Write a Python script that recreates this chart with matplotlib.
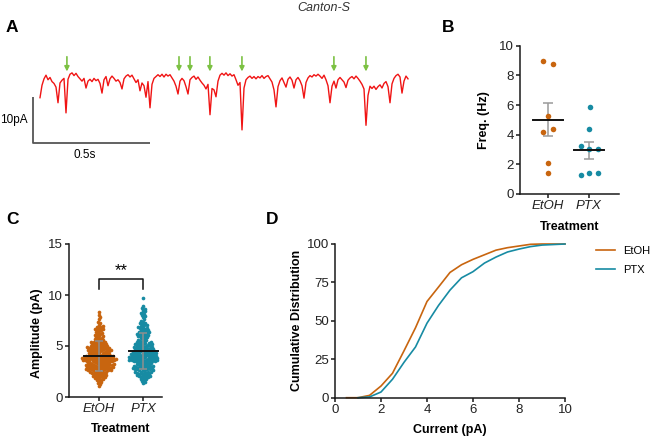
import numpy as np
import matplotlib
matplotlib.use('Agg')
import matplotlib.pyplot as plt

plt.rcParams['font.family'] = ['Liberation Sans', 'DejaVu Sans']

# colours
c_etoh = '#c8650f'
c_ptx = '#178ba3'
c_axis = '#1a1a1a'

# ---- panel A : raw trace (pA), one sample every 2 px of the picture ----
trace_pa = [-4.5, -1.8, -0.4, 0.4, -0.6, -0.1, -1.0, -1.4, -2.2, -5.6,
            -1.3, -0.7, -0.3, -7.8, -0.5, 0.6, 0.9, 0.3, 0.8, 0.1,
            -0.4, -0.9, -0.3, -2.4, -0.9, -0.5, -1.0, -0.3, -0.8, -0.5,
            -1.4, -3.5, -0.6, 0.1, -1.9, -0.4, 0.2, -0.3, -0.9, -0.6,
            -1.2, -2.6, -0.4, 0.2, 0.5, 0.0, 0.4, -0.4, -1.2, -0.6,
            -3.0, -1.3, -1.9, -4.4, -1.0, -6.7, -1.6, -0.3, 0.1, 0.5,
            0.1, 0.6, 0.0, 0.6, 0.2, 0.5, -0.2, -0.9, -2.0, -3.7,
            -0.9, -0.3, -0.8, -2.1, -3.7, -0.6, -0.1, 0.2, -0.5, 0.0,
            -0.7, -1.3, -1.8, -2.6, -1.6, -8.2, -2.5, -2.8, -4.3, -0.9,
            0.4, 0.8, 0.4, 0.9, 0.3, 0.7, 0.2, 0.5, -0.6, -1.8,
            -1.2, -11.5, -2.4, -0.6, -0.1, 0.2, -0.3, 0.1, -0.4, 0.1,
            -0.2, 0.3, -0.3, 0.1, 0.3, -0.4, -1.1, -2.8, -6.5, -2.1,
            -0.8, -0.2, -1.2, -2.2, -0.5, 0.0, -0.7, -2.4, -0.6, -0.1,
            -0.8, -1.9, -4.6, -1.2, -0.2, 0.3, 0.0, 0.5, 0.2, 0.6,
            0.2, -0.3, 0.4, -0.6, -1.9, -5.6, -2.0, -0.9, -2.4, -0.6,
            -0.1, -0.6, -1.1, -2.3, -0.7, -0.2, 0.1, -0.4, 0.2, -0.3,
            -0.9, -1.6, -2.6, -10.5, -4.0, -2.0, -2.5, -2.0, -2.7, -2.1,
            -1.7, -2.4, -1.4, -1.0, -2.1, -5.6, -1.5, -0.3, 0.3, 0.6,
            0.0, -3.5, -0.9, 0.2, -0.4]
sample_dt = 2 / 234.0          # seconds per sample
arrow_times = [0.115, 0.594, 0.641, 0.726, 0.863, 1.256, 1.393]

# ---- panel B : frequency per cell (Hz) ----
groups = ['EtOH', 'PTX']
freq_etoh = [9.0, 8.75, 5.25, 4.2, 4.35, 2.1, 1.4]
freq_ptx = [5.9, 4.35, 3.25, 3.05, 3.05, 1.25, 1.4, 1.4]
jit_etoh = [-0.12, 0.12, 0.0, -0.12, 0.12, 0.0, 0.0]
jit_ptx = [0.02, 0.0, -0.2, 0.0, 0.22, -0.2, 0.0, 0.22]

# ---- panel C : event amplitudes, counts per 0.1 pA from 1.0 to 9.9 ----
amp_levels = np.round(np.arange(1.0, 9.95, 0.1), 1)
amp_count_etoh = [0, 1, 0, 1, 1, 1, 1, 2, 2, 2,
                  3, 3, 3, 3, 3, 5, 5, 5, 6, 5,
                  5, 6, 5, 5, 3, 7, 6, 7, 6, 6,
                  5, 4, 4, 4, 3, 5, 5, 4, 5, 4,
                  4, 3, 3, 3, 3, 2, 2, 2, 2, 1,
                  2, 2, 1, 2, 1, 1, 2, 2, 1, 2,
                  1, 1, 0, 1, 1, 0, 1, 0, 1, 0,
                  1, 0, 0, 1, 0, 0, 0, 0, 0, 0,
                  0, 0, 0, 0, 0, 0, 0, 0, 0, 0]
amp_count_ptx = [0, 0, 0, 0, 1, 1, 1, 1, 2, 1,
                 3, 3, 3, 3, 3, 4, 4, 4, 4, 4,
                 4, 3, 3, 3, 3, 6, 6, 5, 6, 6,
                 5, 5, 5, 5, 5, 4, 4, 4, 4, 4,
                 3, 3, 4, 3, 3, 2, 2, 1, 2, 1,
                 3, 2, 3, 2, 3, 2, 2, 2, 2, 2,
                 1, 2, 1, 2, 1, 1, 1, 0, 1, 1,
                 1, 1, 1, 1, 1, 1, 1, 1, 0, 1,
                 0, 0, 0, 0, 0, 0, 0, 1, 0, 0]

# ---- panel D : cumulative distribution (%) ----
cdf_x_etoh = [0.5, 1.0, 1.5, 2.0, 2.5, 3.0, 3.5, 4.0, 4.5, 5.0, 5.5, 6.0, 6.5,
              7.0, 7.5, 8.0, 8.5, 9.0, 10.0]
cdf_etoh = [0, 0, 1.5, 7.6, 15.9, 30.5, 45.5, 62.6, 72, 81.5, 86.5, 90, 93,
            96, 97.6, 98.7, 99.8, 100, 100]
cdf_x_ptx = [1.0, 1.5, 2.0, 2.5, 3.0, 3.5, 4.0, 4.5, 5.0, 5.5, 6.0, 6.5, 7.0,
             7.5, 8.0, 8.5, 9.0, 10.0]
cdf_ptx = [0, 0.5, 3.7, 12, 23, 33, 48.5, 60, 70, 78, 82, 87.6, 91.5,
           94.8, 96.7, 98.3, 99.3, 100]

W, H = 650, 438
fig = plt.figure(figsize=(W / 100, H / 100), dpi=100)

tick_fs = 9.5
lab_fs = 9


def px_axes(l, t, r, b):
    return fig.add_axes([l / W, 1 - b / H, (r - l) / W, (b - t) / H])


def style(ax):
    for s in ['top', 'right']:
        ax.spines[s].set_visible(False)
    for s in ['left', 'bottom']:
        ax.spines[s].set_linewidth(1.1)
        ax.spines[s].set_color(c_axis)
    ax.tick_params(width=1.1, length=2.8, color=c_axis, labelsize=tick_fs,
                   labelcolor='#222222', pad=1.5)


def swarm(vals, px_y, px_x, dmin=2.15, step=0.4):
    # simple beeswarm: nearest free spot to the centre line
    ys = np.asarray(vals) * px_y
    xs = np.zeros(len(ys))
    placed = []
    for i in np.argsort(ys, kind='stable'):
        y = ys[i]
        near = [(cx, cy) for cx, cy in placed if abs(cy - y) < dmin]
        k = 0
        while True:
            cand = ((k + 1) // 2) * step * (1 if k % 2 else -1)
            if all((cx - cand) ** 2 + (cy - y) ** 2 >= dmin ** 2 for cx, cy in near):
                break
            k += 1
        placed.append((cand, y))
        xs[i] = cand
    return xs / px_x


# ================= A =================
axA = px_axes(0, 50, 410, 160)
axA.axis('off')
t = np.arange(len(trace_pa)) * sample_dt
axA.plot(t, trace_pa, color='#f01414', lw=1.0)
axA.set_xlim(-40 / 234, 370 / 234)
axA.set_ylim(-(160 - 77) / 4.6, (77 - 50) / 4.6)
for at in arrow_times:
    axA.annotate('', xy=(at, 1.2), xytext=(at, 4.4),
                 arrowprops=dict(arrowstyle='-|>', color='#7cc143', lw=1.2,
                                 mutation_scale=7, shrinkA=0, shrinkB=0))
# scale bar 10 pA / 0.5 s
axA.plot([-0.030, -0.030, 0.47], [-4.35, -14.35, -14.35], color='#555555',
         lw=1.3, solid_capstyle='butt', clip_on=False)
axA.text(-0.113, -9.35, '10pA', ha='center', va='center', fontsize=8.5)
axA.text(0.192, -16.9, '0.5s', ha='center', va='center', fontsize=8.5)

# ================= B =================
axB = px_axes(520, 45.7, 619, 194)
style(axB)
for k, (vals, jit, col) in enumerate([(freq_etoh, jit_etoh, c_etoh),
                                      (freq_ptx, jit_ptx, c_ptx)]):
    m = np.mean(vals)
    sem = np.std(vals, ddof=1) / np.sqrt(len(vals))
    axB.errorbar([k], [m], yerr=[sem], color='#9a9a9a', lw=1.1, capsize=3.5,
                 capthick=1.1, zorder=2)
    axB.scatter(np.array(jit) + k, vals, s=16, color=col, lw=0, zorder=3)
    axB.plot([k - 0.37, k + 0.37], [m, m], color='#111111', lw=1.4, zorder=4)
axB.set_xlim(-0.68, 1.73)
axB.set_ylim(0, 10)
axB.set_yticks([0, 2, 4, 6, 8, 10])
axB.set_xticks([0, 1])
axB.set_xticklabels(groups, fontstyle='italic')
axB.set_ylabel('Freq. (Hz)', fontsize=lab_fs, fontweight='bold')
axB.yaxis.set_label_coords(-0.3, 0.5)
axB.set_xlabel('Treatment', fontsize=lab_fs, fontweight='bold')
axB.xaxis.set_label_coords(0.505, -0.18)

# ================= C =================
axC = px_axes(69, 244, 162, 397)
style(axC)
amp_etoh = np.repeat(amp_levels, amp_count_etoh)
amp_ptx = np.repeat(amp_levels, amp_count_ptx)
for k, (vals, col) in enumerate([(amp_etoh, c_etoh), (amp_ptx, c_ptx)]):
    xo = swarm(vals, 10.2, 44.0)
    axC.scatter(xo + k, vals, s=7, color=col, lw=0, zorder=2)
    m = np.mean(vals)
    sd = np.std(vals, ddof=1)
    axC.errorbar([k], [m], yerr=[sd], color='#8f8f8f', lw=1.1, capsize=3,
                 capthick=1.1, zorder=3)
    axC.plot([k - 0.33, k + 0.33], [m, m], color='#111111', lw=1.4, zorder=4)
# significance bracket
axC.plot([0, 0, 1, 1], [10.6, 11.57, 11.57, 10.6], color='#111111', lw=1.1,
         clip_on=False)
axC.text(0.5, 12.4, '**', ha='center', va='center', fontsize=12)
axC.set_xlim(-0.68, 1.43)
axC.set_ylim(0, 15)
axC.set_yticks([0, 5, 10, 15])
axC.set_xticks([0, 1])
axC.set_xticklabels(groups, fontstyle='italic')
axC.set_ylabel('Amplitude (pA)', fontsize=lab_fs, fontweight='bold')
axC.yaxis.set_label_coords(-0.28, 0.42)
axC.set_xlabel('Treatment', fontsize=lab_fs, fontweight='bold')
axC.xaxis.set_label_coords(0.55, -0.17)

# ================= D =================
axD = px_axes(335, 244, 565, 397.7)
style(axD)
axD.plot(cdf_x_etoh, cdf_etoh, color=c_etoh, lw=1.2, label='EtOH', clip_on=False)
axD.plot(cdf_x_ptx, cdf_ptx, color=c_ptx, lw=1.2, label='PTX', clip_on=False)
axD.set_xlim(0, 10)
axD.set_ylim(0, 100)
axD.set_xticks([0, 2, 4, 6, 8, 10])
axD.set_yticks([0, 25, 50, 75, 100])
axD.set_ylabel('Cumulative Distribution', fontsize=lab_fs, fontweight='bold')
axD.yaxis.set_label_coords(-0.14, 0.5)
axD.set_xlabel('Current (pA)', fontsize=lab_fs, fontweight='bold')
axD.xaxis.set_label_coords(0.5, -0.17)
axD.legend(loc='upper left', bbox_to_anchor=(596 / W, 1 - 246 / H),
           bbox_transform=fig.transFigure, frameon=False, fontsize=8,
           handlelength=1.7, handletextpad=0.7, labelspacing=0.8,
           borderpad=0, borderaxespad=0)

# panel letters and title
for letter, x, y in [('A', 12, 27), ('B', 448, 27), ('C', 12, 220), ('D', 272, 220)]:
    fig.text(x / W, 1 - y / H, letter, fontsize=12.5, fontweight='bold',
             ha='center', va='center')
fig.text(324 / W, 1 - 8 / H, 'Canton-S', fontsize=9, fontstyle='italic',
         ha='center', va='center', color='#333333')

fig.savefig('out.png', dpi=100)
